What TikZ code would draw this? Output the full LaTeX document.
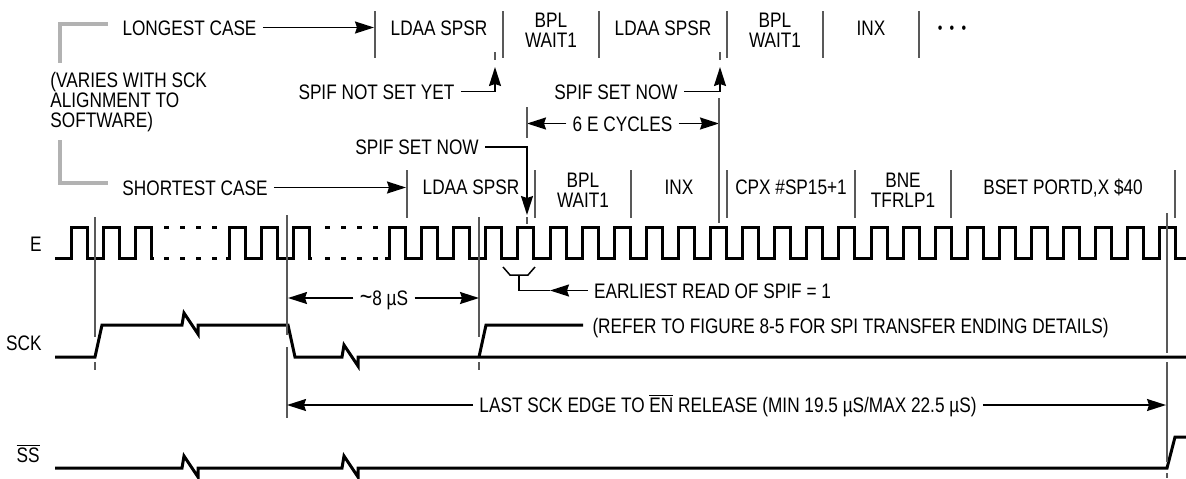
\documentclass[tikz,border=0pt]{standalone}
\usepackage{fontspec}
\setmainfont{Liberation Sans}[FakeStretch=0.82]
\usetikzlibrary{arrows.meta}
\newcommand{\zig}{-- ++(2,-12) -- ++(14,21) -- ++(0,-9)}

\begin{document}
\begin{tikzpicture}[x=.5pt,y=-.5pt,>={Stealth[length=9.5pt,width=6pt,inset=1pt]},
  font=\fontsize{10.5}{10}\selectfont,
  wave/.style={line width=1.5pt},
  sep/.style={black!65,line width=1pt},
  dim/.style={line width=.75pt},
  gbar/.style={black!30,line width=2.4pt},
  lbl/.style={inner sep=3pt,text height=7.5pt,text depth=0pt},
  two/.style={inner sep=3pt,align=center}]
\useasboundingbox (0,0) rectangle (1186,478);

\node[lbl] (longest) at (189.5,27.5) {LONGEST CASE};
\coordinate (top0) at (374,27.5);
\draw[dim,->] (longest) -- (top0);
\foreach \x in {375,503,599,727,823,919} \draw[sep] (\x,11) -- (\x,58);
\node[lbl] (ta) at (439,28) {LDAA SPSR};
\node[two] (tb) at (551,30) {BPL\\WAIT1};
\node[lbl] (tc) at (663,28) {LDAA SPSR};
\node[two] (td) at (775,30) {BPL\\WAIT1};
\node[lbl] (te) at (871,28) {INX};
\node[lbl,font=\fontsize{8}{8}\selectfont] (tf) at (952,26) {•\hspace{3.6pt}•\hspace{3.6pt}•};

\node[two,align=left,anchor=west] (varies) at (44,102) {(VARIES WITH SCK\\ALIGNMENT TO\\SOFTWARE)};
\draw[gbar] (108,24) -| (60,63);
\draw[gbar] (60,140) |- (108,183);

\node[lbl] (notyet) at (376.5,91.5) {SPIF NOT SET YET};
\coordinate (ny) at (495,67);
\draw[dim,->] (notyet) -| (ny);
\node[lbl] (setnow) at (616,91.5) {SPIF SET NOW};
\coordinate (sn) at (720,67);
\draw[dim,->] (setnow) -| (sn);
\draw[sep] (495,52) -- (495,60) (720,52) -- (720,60);

\node[lbl] (cycles) at (622.5,123.5) {6 E CYCLES};
\coordinate (cy0) at (527,123.5);
\coordinate (cy1) at (719,123.5);
\draw[dim,->] (cycles) -- (cy0);
\draw[dim,->] (cycles) -- (cy1);
\draw[sep] (527,107) -- (527,138) (719,98) -- (719,223);

\node[lbl] (setnow0) at (417,147) {SPIF SET NOW};
\coordinate (sn0) at (527,215);
\draw[dim,->] (setnow0) -| (sn0);
\draw[sep] (527,217) -- (527,224);

\node[lbl] (shortest) at (195,187.5) {SHORTEST CASE};
\coordinate (bot0) at (406,187.5);
\draw[dim,->] (shortest) -- (bot0);
\foreach \x in {407,535,631,727,855,951,1175} \draw[sep] (\x,170) -- (\x,218);
\node[lbl] (ba) at (471,187) {LDAA SPSR};
\node[two] (bb) at (583,190) {BPL\\WAIT1};
\node[lbl] (bc) at (679,187) {INX};
\node[lbl] (bd) at (791,187) {CPX \#SP15+1};
\node[two] (be) at (903,190) {BNE\\TFRLP1};
\node[lbl] (bf) at (1063,187) {BSET PORTD,X \$40};

\node[lbl,anchor=east] (e) at (48,244) {E};
\node[lbl,anchor=east] (sck) at (48,343) {SCK};
\node[lbl,anchor=east] (ss) at (46,455) {$\overline{\mbox{SS}}$};

\draw[wave] (55,258) foreach \r in {71,103,135} {-- (\r,258) -- (\r,227) -- ({\r+16},227) -- ({\r+16},258)} -- (154,258);
\draw[wave,dash pattern=on 2.5pt off 5.5pt] (164,258) -- (220,258) (164,227) -- (220,227);
\draw[wave] (226,258) foreach \r in {229,261,293} {-- (\r,258) -- (\r,227) -- ({\r+16},227) -- ({\r+16},258)} -- (312,258);
\draw[wave,dash pattern=on 2.5pt off 5.5pt] (325,258) -- (381,258) (325,227) -- (381,227);
\draw[wave] (385,258) foreach \k in {0,...,24} {-- ({389.5+32.1*\k},258) -- ++(0,-31) -- ++(16,0) -- ++(0,31)} -- (1186,258);

\draw[wave] (55,357) -- (95,357) -- (102,325) -- (182,325) \zig -- (288,325) -- (295,357) -- (342,357) \zig -- (1186,357);
\draw[wave] (479,357) -- (486,325) -- (583,325);
\draw[wave] (55,468) -- (182,468) \zig -- (342,468) \zig -- (1167,468) -- (1175,437) -- (1186,437);

\draw[sep] (95,217) -- (95,337) (95,362) -- (95,370);
\draw[sep] (287,215) -- (287,335) (287,347) -- (287,418);
\draw[sep] (479,217) -- (479,337) (479,362) -- (479,370);
\draw[sep] (1167,213) -- (1167,353) (1167,362) -- (1167,462) (1167,473) -- (1167,478);

\node[lbl] (eight) at (384,298) {{\fontsize{13}{10}\selectfont\textasciitilde}8 µS};
\coordinate (ei0) at (288,298);
\coordinate (ei1) at (479,298);
\draw[dim,->] (eight) -- (ei0);
\draw[dim,->] (eight) -- (ei1);

\node[lbl] (earliest) at (712.5,290.5) {EARLIEST READ OF SPIF = 1};
\coordinate (ea) at (550,290.5);
\coordinate (rd) at (519,275);
\draw[dim,->] (earliest) -- (ea);
\draw[dim] (ea) -| (rd);
\draw[dim] (503,267) -- (510,275) -- (528,275) -- (535,267);

\node[lbl] (refer) at (850.5,326) {(REFER TO FIGURE 8-5 FOR SPI TRANSFER ENDING DETAILS)};

\node[lbl] (last) at (728,405) {LAST SCK EDGE TO $\overline{\mbox{EN}}$ RELEASE (MIN 19.5 µS/MAX 22.5 µS)};
\coordinate (la0) at (287,405);
\coordinate (la1) at (1166,405);
\draw[dim,->] (last) -- (la0);
\draw[dim,->] (last) -- (la1);
\end{tikzpicture}
\end{document}
